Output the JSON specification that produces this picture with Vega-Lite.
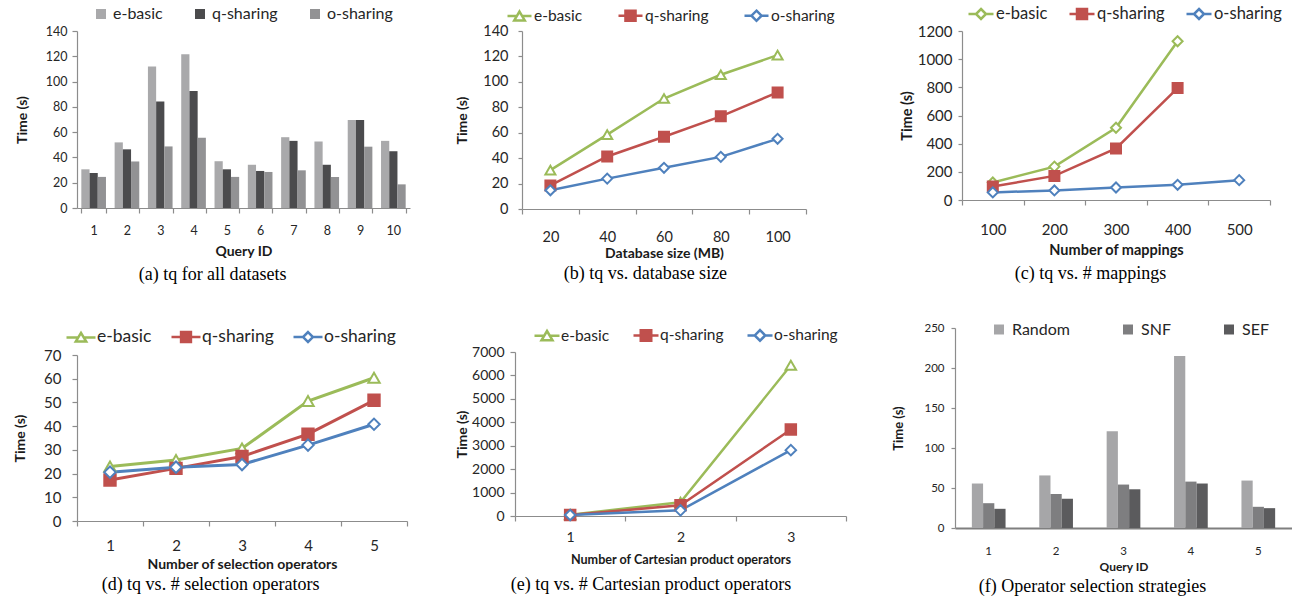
{
  "$schema": "https://vega.github.io/schema/vega-lite/v6.json",
  "padding": {"left": 13, "top": 0, "right": 0, "bottom": 0},
  "background": "white",
  "datasets": {
    "a": [
      {"q": 1, "s": "e-basic", "t": 30.6}, {"q": 1, "s": "q-sharing", "t": 27.7}, {"q": 1, "s": "o-sharing", "t": 24.6},
      {"q": 2, "s": "e-basic", "t": 51.9}, {"q": 2, "s": "q-sharing", "t": 46.4}, {"q": 2, "s": "o-sharing", "t": 36.8},
      {"q": 3, "s": "e-basic", "t": 112}, {"q": 3, "s": "q-sharing", "t": 84.3}, {"q": 3, "s": "o-sharing", "t": 48.7},
      {"q": 4, "s": "e-basic", "t": 121.6}, {"q": 4, "s": "q-sharing", "t": 92.6}, {"q": 4, "s": "o-sharing", "t": 55.5},
      {"q": 5, "s": "e-basic", "t": 37}, {"q": 5, "s": "q-sharing", "t": 30.6}, {"q": 5, "s": "o-sharing", "t": 24.6},
      {"q": 6, "s": "e-basic", "t": 34.2}, {"q": 6, "s": "q-sharing", "t": 29.3}, {"q": 6, "s": "o-sharing", "t": 28.5},
      {"q": 7, "s": "e-basic", "t": 56}, {"q": 7, "s": "q-sharing", "t": 53.1}, {"q": 7, "s": "o-sharing", "t": 29.8},
      {"q": 8, "s": "e-basic", "t": 52.6}, {"q": 8, "s": "q-sharing", "t": 34.2}, {"q": 8, "s": "o-sharing", "t": 24.6},
      {"q": 9, "s": "e-basic", "t": 69.7}, {"q": 9, "s": "q-sharing", "t": 69.7}, {"q": 9, "s": "o-sharing", "t": 48.5},
      {"q": 10, "s": "e-basic", "t": 53.1}, {"q": 10, "s": "q-sharing", "t": 44.9}, {"q": 10, "s": "o-sharing", "t": 18.7}
    ],
    "b": [
      {"x": 20, "s": "e-basic", "t": 30.6}, {"x": 40, "s": "e-basic", "t": 58.5}, {"x": 60, "s": "e-basic", "t": 86.9}, {"x": 80, "s": "e-basic", "t": 105.6}, {"x": 100, "s": "e-basic", "t": 121},
      {"x": 20, "s": "q-sharing", "t": 18.5}, {"x": 40, "s": "q-sharing", "t": 41.3}, {"x": 60, "s": "q-sharing", "t": 56.8}, {"x": 80, "s": "q-sharing", "t": 72.9}, {"x": 100, "s": "q-sharing", "t": 91.7},
      {"x": 20, "s": "o-sharing", "t": 14.7}, {"x": 40, "s": "o-sharing", "t": 23.9}, {"x": 60, "s": "o-sharing", "t": 32.4}, {"x": 80, "s": "o-sharing", "t": 41}, {"x": 100, "s": "o-sharing", "t": 55.2}
    ],
    "c": [
      {"x": 100, "s": "e-basic", "t": 124}, {"x": 200, "s": "e-basic", "t": 237}, {"x": 300, "s": "e-basic", "t": 513}, {"x": 400, "s": "e-basic", "t": 1127},
      {"x": 100, "s": "q-sharing", "t": 96}, {"x": 200, "s": "q-sharing", "t": 171}, {"x": 300, "s": "q-sharing", "t": 366}, {"x": 400, "s": "q-sharing", "t": 795},
      {"x": 100, "s": "o-sharing", "t": 54}, {"x": 200, "s": "o-sharing", "t": 68}, {"x": 300, "s": "o-sharing", "t": 89}, {"x": 400, "s": "o-sharing", "t": 108}, {"x": 500, "s": "o-sharing", "t": 141}
    ],
    "d": [
      {"x": 1, "s": "e-basic", "t": 23}, {"x": 2, "s": "e-basic", "t": 25.7}, {"x": 3, "s": "e-basic", "t": 30.6}, {"x": 4, "s": "e-basic", "t": 50.6}, {"x": 5, "s": "e-basic", "t": 60.4},
      {"x": 1, "s": "q-sharing", "t": 17.3}, {"x": 2, "s": "q-sharing", "t": 22.2}, {"x": 3, "s": "q-sharing", "t": 27.2}, {"x": 4, "s": "q-sharing", "t": 36.6}, {"x": 5, "s": "q-sharing", "t": 50.9},
      {"x": 1, "s": "o-sharing", "t": 20.6}, {"x": 2, "s": "o-sharing", "t": 22.7}, {"x": 3, "s": "o-sharing", "t": 23.8}, {"x": 4, "s": "o-sharing", "t": 32}, {"x": 5, "s": "o-sharing", "t": 40.8}
    ],
    "e": [
      {"x": 1, "s": "e-basic", "t": 57}, {"x": 2, "s": "e-basic", "t": 582}, {"x": 3, "s": "e-basic", "t": 6432},
      {"x": 1, "s": "q-sharing", "t": 45}, {"x": 2, "s": "q-sharing", "t": 454}, {"x": 3, "s": "q-sharing", "t": 3692},
      {"x": 1, "s": "o-sharing", "t": 40}, {"x": 2, "s": "o-sharing", "t": 241}, {"x": 3, "s": "o-sharing", "t": 2811}
    ],
    "f": [
      {"q": 1, "s": "Random", "t": 55.6}, {"q": 1, "s": "SNF", "t": 31}, {"q": 1, "s": "SEF", "t": 24},
      {"q": 2, "s": "Random", "t": 65.7}, {"q": 2, "s": "SNF", "t": 42.5}, {"q": 2, "s": "SEF", "t": 36.6},
      {"q": 3, "s": "Random", "t": 120.8}, {"q": 3, "s": "SNF", "t": 54.3}, {"q": 3, "s": "SEF", "t": 48.4},
      {"q": 4, "s": "Random", "t": 215}, {"q": 4, "s": "SNF", "t": 58}, {"q": 4, "s": "SEF", "t": 55.6},
      {"q": 5, "s": "Random", "t": 59.3}, {"q": 5, "s": "SNF", "t": 26.5}, {"q": 5, "s": "SEF", "t": 24.8}
    ]
  },
  "columns": 3,
  "align": "none",
  "spacing": {"row": 37, "column": 45},
  "resolve": {"scale": {"color": "independent", "stroke": "independent", "fill": "independent", "shape": "independent", "xOffset": "independent"}, "legend": {"color": "independent", "stroke": "independent", "fill": "independent", "shape": "independent"}},
  "concat": [
    {
      "width": 333, "height": 177,
      "title": {"text": "(a) tq for all datasets", "offset": 7},
      "data": {"name": "a"},
      "mark": {"type": "bar"},
      "encoding": {
        "x": {"field": "q", "type": "ordinal", "scale": {"paddingInner": 0.26, "paddingOuter": 0.13},
              "axis": {"title": "Query ID", "labelAngle": 0, "tickBand": "extent", "labelPadding": 11, "titlePadding": 8, "labelFontSize": 12.5, "titleFontSize": 14}},
        "xOffset": {"field": "s", "type": "nominal", "sort": ["e-basic", "q-sharing", "o-sharing"], "scale": {"paddingInner": 0, "paddingOuter": 0}},
        "y": {"field": "t", "type": "quantitative", "scale": {"domain": [0, 140], "nice": false},
              "axis": {"values": [0, 20, 40, 60, 80, 100, 120, 140], "title": "Time (s)", "labelPadding": 5, "titlePadding": 16, "labelFontSize": 12.5, "titleFontSize": 14}},
        "color": {"field": "s", "type": "nominal", "sort": ["e-basic", "q-sharing", "o-sharing"],
                  "scale": {"domain": ["e-basic", "q-sharing", "o-sharing"], "range": ["#a9a9ab", "#4b4b4d", "#929294"]},
                  "legend": {"title": null, "orient": "none", "legendX": 16, "legendY": -25, "direction": "horizontal", "symbolType": "square", "symbolSize": 100, "labelFontSize": 16, "labelOffset": 4, "columnPadding": 29, "symbolStrokeWidth": 0}}
      }
    },
    {
      "width": 284, "height": 178,
      "title": {"text": "(b) tq vs. database size"},
      "data": {"name": "b"},
      "encoding": {
        "x": {"field": "x", "type": "ordinal", "scale": {"type": "band", "paddingInner": 0, "paddingOuter": 0},
              "axis": {"title": "Database size (MB)", "labelAngle": 0, "tickBand": "extent", "labelPadding": 16, "titlePadding": 3, "labelFontSize": 14.5, "titleFontSize": 14}},
        "y": {"field": "t", "type": "quantitative", "scale": {"domain": [0, 140], "nice": false},
              "axis": {"values": [0, 20, 40, 60, 80, 100, 120, 140], "title": "Time (s)", "labelPadding": 10, "titlePadding": 13, "labelFontSize": 14.5, "titleFontSize": 14, "tickSize": 4}}
      },
      "layer": [
        {"mark": {"type": "line", "strokeWidth": 2.5},
         "encoding": {"color": {"field": "s", "type": "nominal", "scale": {"domain": ["e-basic", "q-sharing", "o-sharing"], "range": ["#9bbb59", "#c0504d", "#4f81bd"]}, "legend": null}}},
        {"mark": {"type": "point", "filled": true, "size": 100, "strokeWidth": 2, "opacity": 1},
         "encoding": {
           "stroke": {"field": "s", "type": "nominal", "scale": {"domain": ["e-basic", "q-sharing", "o-sharing"], "range": ["#9bbb59", "#c0504d", "#4f81bd"]}, "legend": null},
           "fill": {"field": "s", "type": "nominal", "scale": {"domain": ["e-basic", "q-sharing", "o-sharing"], "range": ["#ffffff", "#c0504d", "#ffffff"]}, "legend": null},
           "shape": {"field": "s", "type": "nominal", "scale": {"domain": ["e-basic", "q-sharing", "o-sharing"], "range": ["triangle-up", "square", "diamond"]}, "legend": null}}},
        {"mark": {"type": "point", "filled": true, "opacity": 0, "strokeWidth": 2.5},
         "encoding": {
           "stroke": {"field": "s", "type": "nominal", "scale": {"domain": ["e-basic", "q-sharing", "o-sharing"], "range": ["#9bbb59", "#c0504d", "#4f81bd"]},
                      "legend": {"title": null, "orient": "none", "legendX": -16, "legendY": -29, "direction": "horizontal", "symbolSize": 576, "symbolStrokeWidth": 2.5, "symbolOpacity": 1, "labelFontSize": 15.5, "labelOffset": 1, "columnPadding": 30}},
           "fill": {"field": "s", "type": "nominal", "scale": {"domain": ["e-basic", "q-sharing", "o-sharing"], "range": ["#ffffff", "#c0504d", "#ffffff"]},
                      "legend": {"title": null, "orient": "none", "legendX": -16, "legendY": -29, "direction": "horizontal", "symbolSize": 576, "symbolStrokeWidth": 2.5, "symbolOpacity": 1, "labelFontSize": 15.5, "labelOffset": 1, "columnPadding": 30}},
           "shape": {"field": "s", "type": "nominal", "scale": {"domain": ["e-basic", "q-sharing", "o-sharing"], "range": ["M-1,0H-0.23M0.23,0H1M0,-0.38L0.44,0.36H-0.44Z", "M-1,0H-0.42M0.42,0H1M-0.42,-0.42H0.42V0.42H-0.42Z", "M-1,0H-0.42M0.42,0H1M0,-0.42L0.42,0L0,0.42L-0.42,0Z"]},
                      "legend": {"title": null, "orient": "none", "legendX": -16, "legendY": -29, "direction": "horizontal", "symbolSize": 576, "symbolStrokeWidth": 2.5, "symbolOpacity": 1, "labelFontSize": 15.5, "labelOffset": 1, "columnPadding": 30}}}}
      ],
      "resolve": {"scale": {"shape": "independent"}, "legend": {"shape": "independent", "stroke": "independent", "fill": "independent"}}
    },
    {
      "width": 308, "height": 169,
      "title": {"text": "(c) tq vs. # mappings", "offset": 8},
      "data": {"name": "c"},
      "encoding": {
        "x": {"field": "x", "type": "ordinal", "scale": {"type": "band", "paddingInner": 0, "paddingOuter": 0},
              "axis": {"title": "Number of mappings", "labelAngle": 0, "tickBand": "extent", "labelPadding": 17, "titlePadding": 6, "labelFontSize": 15, "titleFontSize": 14.5}},
        "y": {"field": "t", "type": "quantitative", "scale": {"domain": [0, 1200], "nice": false},
              "axis": {"values": [0, 200, 400, 600, 800, 1000, 1200], "format": "d", "title": "Time (s)", "labelPadding": 6, "titlePadding": 3, "labelFontSize": 15, "titleFontSize": 14.5, "tickSize": 4}}
      },
      "layer": [
        {"mark": {"type": "line", "strokeWidth": 2.5},
         "encoding": {"color": {"field": "s", "type": "nominal", "scale": {"domain": ["e-basic", "q-sharing", "o-sharing"], "range": ["#9bbb59", "#c0504d", "#4f81bd"]}, "legend": null}}},
        {"mark": {"type": "point", "filled": true, "size": 100, "strokeWidth": 2, "opacity": 1},
         "encoding": {
           "stroke": {"field": "s", "type": "nominal", "scale": {"domain": ["e-basic", "q-sharing", "o-sharing"], "range": ["#9bbb59", "#c0504d", "#4f81bd"]}, "legend": null},
           "fill": {"field": "s", "type": "nominal", "scale": {"domain": ["e-basic", "q-sharing", "o-sharing"], "range": ["#ffffff", "#c0504d", "#ffffff"]}, "legend": null},
           "shape": {"field": "s", "type": "nominal", "scale": {"domain": ["e-basic", "q-sharing", "o-sharing"], "range": ["diamond", "square", "diamond"]}, "legend": null}}},
        {"mark": {"type": "point", "filled": true, "opacity": 0, "strokeWidth": 2.5},
         "encoding": {
           "stroke": {"field": "s", "type": "nominal", "scale": {"domain": ["e-basic", "q-sharing", "o-sharing"], "range": ["#9bbb59", "#c0504d", "#4f81bd"]},
                      "legend": {"title": null, "orient": "none", "legendX": 5, "legendY": -31, "direction": "horizontal", "symbolSize": 625, "symbolStrokeWidth": 2.5, "symbolOpacity": 1, "labelFontSize": 16.5, "labelOffset": 1, "columnPadding": 16}},
           "fill": {"field": "s", "type": "nominal", "scale": {"domain": ["e-basic", "q-sharing", "o-sharing"], "range": ["#ffffff", "#c0504d", "#ffffff"]},
                      "legend": {"title": null, "orient": "none", "legendX": 5, "legendY": -31, "direction": "horizontal", "symbolSize": 625, "symbolStrokeWidth": 2.5, "symbolOpacity": 1, "labelFontSize": 16.5, "labelOffset": 1, "columnPadding": 16}},
           "shape": {"field": "s", "type": "nominal", "scale": {"domain": ["e-basic", "q-sharing", "o-sharing"], "range": ["M-1,0H-0.4M0.4,0H1M0,-0.4L0.4,0L0,0.4L-0.4,0Z", "M-1,0H-0.4M0.4,0H1M-0.4,-0.4H0.4V0.4H-0.4Z", "M-1,0H-0.4M0.4,0H1M0,-0.4L0.4,0L0,0.4L-0.4,0Z"]},
                      "legend": {"title": null, "orient": "none", "legendX": 5, "legendY": -31, "direction": "horizontal", "symbolSize": 625, "symbolStrokeWidth": 2.5, "symbolOpacity": 1, "labelFontSize": 16.5, "labelOffset": 1, "columnPadding": 16}}}}
      ],
      "resolve": {"scale": {"shape": "independent"}, "legend": {"shape": "independent", "stroke": "independent", "fill": "independent"}}
    },
    {
      "width": 330, "height": 166,
      "title": {"text": "(d) tq vs. # selection operators", "offset": 5},
      "data": {"name": "d"},
      "encoding": {
        "x": {"field": "x", "type": "ordinal", "scale": {"type": "band", "paddingInner": 0, "paddingOuter": 0},
              "axis": {"title": "Number of selection operators", "labelAngle": 0, "tickBand": "extent", "labelPadding": 12, "titlePadding": 4, "labelFontSize": 15, "titleFontSize": 14}},
        "y": {"field": "t", "type": "quantitative", "scale": {"domain": [0, 70], "nice": false},
              "axis": {"values": [0, 10, 20, 30, 40, 50, 60, 70], "title": "Time (s)", "labelPadding": 11, "titlePadding": 16, "labelFontSize": 15, "titleFontSize": 14, "tickSize": 5}}
      },
      "layer": [
        {"mark": {"type": "line", "strokeWidth": 3},
         "encoding": {"color": {"field": "s", "type": "nominal", "scale": {"domain": ["e-basic", "q-sharing", "o-sharing"], "range": ["#9bbb59", "#c0504d", "#4f81bd"]}, "legend": null}}},
        {"mark": {"type": "point", "filled": true, "size": 130, "strokeWidth": 2, "opacity": 1},
         "encoding": {
           "stroke": {"field": "s", "type": "nominal", "scale": {"domain": ["e-basic", "q-sharing", "o-sharing"], "range": ["#9bbb59", "#c0504d", "#4f81bd"]}, "legend": null},
           "fill": {"field": "s", "type": "nominal", "scale": {"domain": ["e-basic", "q-sharing", "o-sharing"], "range": ["#ffffff", "#c0504d", "#ffffff"]}, "legend": null},
           "shape": {"field": "s", "type": "nominal", "scale": {"domain": ["e-basic", "q-sharing", "o-sharing"], "range": ["triangle-up", "square", "diamond"]}, "legend": null}}},
        {"mark": {"type": "point", "filled": true, "opacity": 0, "strokeWidth": 2.5},
         "encoding": {
           "stroke": {"field": "s", "type": "nominal", "scale": {"domain": ["e-basic", "q-sharing", "o-sharing"], "range": ["#9bbb59", "#c0504d", "#4f81bd"]},
                      "legend": {"title": null, "orient": "none", "legendX": -12, "legendY": -34, "direction": "horizontal", "symbolSize": 841, "symbolStrokeWidth": 2.5, "symbolOpacity": 1, "labelFontSize": 17.5, "labelOffset": 0, "columnPadding": 14}},
           "fill": {"field": "s", "type": "nominal", "scale": {"domain": ["e-basic", "q-sharing", "o-sharing"], "range": ["#ffffff", "#c0504d", "#ffffff"]},
                      "legend": {"title": null, "orient": "none", "legendX": -12, "legendY": -34, "direction": "horizontal", "symbolSize": 841, "symbolStrokeWidth": 2.5, "symbolOpacity": 1, "labelFontSize": 17.5, "labelOffset": 0, "columnPadding": 14}},
           "shape": {"field": "s", "type": "nominal", "scale": {"domain": ["e-basic", "q-sharing", "o-sharing"], "range": ["M-1,0H-0.19M0.19,0H1M0,-0.31L0.36,0.29H-0.36Z", "M-1,0H-0.34M0.34,0H1M-0.34,-0.34H0.34V0.34H-0.34Z", "M-1,0H-0.34M0.34,0H1M0,-0.34L0.34,0L0,0.34L-0.34,0Z"]},
                      "legend": {"title": null, "orient": "none", "legendX": -12, "legendY": -34, "direction": "horizontal", "symbolSize": 841, "symbolStrokeWidth": 2.5, "symbolOpacity": 1, "labelFontSize": 17.5, "labelOffset": 0, "columnPadding": 14}}}}
      ],
      "resolve": {"scale": {"shape": "independent"}, "legend": {"shape": "independent", "stroke": "independent", "fill": "independent"}}
    },
    {
      "width": 331, "height": 164,
      "title": {"text": "(e) tq vs. # Cartesian product operators", "offset": 10},
      "data": {"name": "e"},
      "encoding": {
        "x": {"field": "x", "type": "ordinal", "scale": {"type": "band", "paddingInner": 0, "paddingOuter": 0},
              "axis": {"title": "Number of Cartesian product operators", "labelAngle": 0, "tickBand": "extent", "labelPadding": 9, "titlePadding": 9, "labelFontSize": 14, "titleFontSize": 12.6}},
        "y": {"field": "t", "type": "quantitative", "scale": {"domain": [0, 7000], "nice": false},
              "axis": {"values": [0, 1000, 2000, 3000, 4000, 5000, 6000, 7000], "format": "d", "title": "Time (s)", "labelPadding": 6, "titlePadding": 2, "labelFontSize": 14, "titleFontSize": 14, "tickSize": 5}}
      },
      "layer": [
        {"mark": {"type": "line", "strokeWidth": 2.5},
         "encoding": {"color": {"field": "s", "type": "nominal", "scale": {"domain": ["e-basic", "q-sharing", "o-sharing"], "range": ["#9bbb59", "#c0504d", "#4f81bd"]}, "legend": null}}},
        {"mark": {"type": "point", "filled": true, "size": 110, "strokeWidth": 2, "opacity": 1},
         "encoding": {
           "stroke": {"field": "s", "type": "nominal", "scale": {"domain": ["e-basic", "q-sharing", "o-sharing"], "range": ["#9bbb59", "#c0504d", "#4f81bd"]}, "legend": null},
           "fill": {"field": "s", "type": "nominal", "scale": {"domain": ["e-basic", "q-sharing", "o-sharing"], "range": ["#ffffff", "#c0504d", "#ffffff"]}, "legend": null},
           "shape": {"field": "s", "type": "nominal", "scale": {"domain": ["e-basic", "q-sharing", "o-sharing"], "range": ["triangle-up", "square", "diamond"]}, "legend": null}}},
        {"mark": {"type": "point", "filled": true, "opacity": 0, "strokeWidth": 2.5},
         "encoding": {
           "stroke": {"field": "s", "type": "nominal", "scale": {"domain": ["e-basic", "q-sharing", "o-sharing"], "range": ["#9bbb59", "#c0504d", "#4f81bd"]},
                      "legend": {"title": null, "orient": "none", "legendX": 18, "legendY": -31, "direction": "horizontal", "symbolSize": 625, "symbolStrokeWidth": 2.5, "symbolOpacity": 1, "labelFontSize": 15.5, "labelOffset": 0, "columnPadding": 18}},
           "fill": {"field": "s", "type": "nominal", "scale": {"domain": ["e-basic", "q-sharing", "o-sharing"], "range": ["#ffffff", "#c0504d", "#ffffff"]},
                      "legend": {"title": null, "orient": "none", "legendX": 18, "legendY": -31, "direction": "horizontal", "symbolSize": 625, "symbolStrokeWidth": 2.5, "symbolOpacity": 1, "labelFontSize": 15.5, "labelOffset": 0, "columnPadding": 18}},
           "shape": {"field": "s", "type": "nominal", "scale": {"domain": ["e-basic", "q-sharing", "o-sharing"], "range": ["M-1,0H-0.23M0.23,0H1M0,-0.38L0.44,0.36H-0.44Z", "M-1,0H-0.42M0.42,0H1M-0.42,-0.42H0.42V0.42H-0.42Z", "M-1,0H-0.42M0.42,0H1M0,-0.42L0.42,0L0,0.42L-0.42,0Z"]},
                      "legend": {"title": null, "orient": "none", "legendX": 18, "legendY": -31, "direction": "horizontal", "symbolSize": 625, "symbolStrokeWidth": 2.5, "symbolOpacity": 1, "labelFontSize": 15.5, "labelOffset": 0, "columnPadding": 18}}}}
      ],
      "resolve": {"scale": {"shape": "independent"}, "legend": {"shape": "independent", "stroke": "independent", "fill": "independent"}}
    },
    {
      "width": 337, "height": 200,
      "title": {"text": "(f) Operator selection strategies", "offset": 5},
      "data": {"name": "f"},
      "mark": {"type": "bar"},
      "encoding": {
        "x": {"field": "q", "type": "ordinal", "scale": {"paddingInner": 0.5, "paddingOuter": 0.25},
              "axis": {"title": "Query ID", "labelAngle": 0, "ticks": false, "labelPadding": 17, "titlePadding": 5, "labelFontSize": 11.5, "titleFontSize": 12, "domainColor": "#7f7f7f", "domainWidth": 2.2}},
        "xOffset": {"field": "s", "type": "nominal", "sort": ["Random", "SNF", "SEF"], "scale": {"paddingInner": 0, "paddingOuter": 0}},
        "y": {"field": "t", "type": "quantitative", "scale": {"domain": [0, 250], "nice": false},
              "axis": {"values": [0, 50, 100, 150, 200, 250], "title": "Time (s)", "labelPadding": 7, "titlePadding": 18, "labelFontSize": 11.5, "titleFontSize": 13, "tickSize": 4}},
        "color": {"field": "s", "type": "nominal", "sort": ["Random", "SNF", "SEF"],
                  "scale": {"domain": ["Random", "SNF", "SEF"], "range": ["#a6a6a8", "#7e7e80", "#5b5b5d"]},
                  "legend": {"title": null, "orient": "none", "legendX": 36, "legendY": -6.5, "direction": "horizontal", "symbolType": "square", "symbolSize": 100, "labelFontSize": 16, "labelOffset": 5, "columnPadding": 50, "symbolStrokeWidth": 0}}
      }
    }
  ],
  "config": {
    "font": "Lato",
    "view": {"stroke": null},
    "axis": {"grid": false, "domainColor": "#8c8c8c", "tickColor": "#8c8c8c", "labelColor": "#262626", "titleColor": "#1a1a1a", "titleFontWeight": "bold", "labelFont": "Lato", "titleFont": "Lato", "tickSize": 5, "domainWidth": 1.2, "tickWidth": 1.2},
    "legend": {"labelFont": "Lato", "labelColor": "#262626", "padding": 0},
    "title": {"font": "Liberation Serif", "fontSize": 18, "fontWeight": "normal", "orient": "bottom", "anchor": "middle", "frame": "bounds", "color": "#000000", "offset": 4}
  }
}
